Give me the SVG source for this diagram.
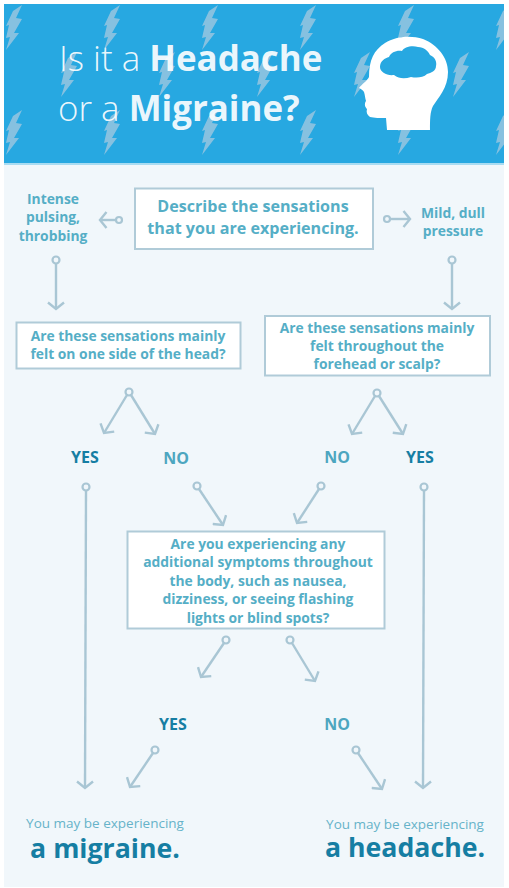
<svg xmlns="http://www.w3.org/2000/svg" width="509" height="888" viewBox="0 0 509 888">
<style>
text{font-family:"Open Sans","Liberation Sans",sans-serif;text-anchor:middle}
.t{fill:#fff;fill-opacity:.92;font-size:34.900px;text-anchor:start;font-weight:300}
.b{font-weight:700}
.box{fill:#fff;stroke:#b0cbd8;stroke-width:2}
.q{fill:#55aec6;font-size:13.850px;font-weight:700}
.q2{fill:#55aec6;font-size:16.100px;font-weight:700}
.no{fill:#4da6c0;font-size:16px;font-weight:700}
.yes{fill:#167ea3;font-size:16px;font-weight:700}
.sm{fill:#66b3c9;font-size:13.500px;font-weight:400}
.big{fill:#167ea3;font-size:26.700px;font-weight:700}
.c line{stroke:#a9c6d4;stroke-width:2.400;fill:none}
.c circle{fill:none;stroke:#a9c6d4;stroke-width:2.200}
.bolt{fill:#9fc7e0;fill-opacity:.8}
</style>
<defs>
<marker id="a" markerWidth="18" markerHeight="18" refX="9" refY="9" orient="auto" markerUnits="userSpaceOnUse"><path d="M2.500 1L9 9L2.500 17" fill="none" stroke="#a9c6d4" stroke-width="2.400"/></marker>
<polygon id="z" points="13,11 22,5 16,18 22,19 14,33 19,33 6,50 10,37 6,38 9,25 6,26"/>
<clipPath id="cp"><rect x="4" y="4" width="500" height="160"/></clipPath>
</defs>
<rect width="509" height="888" fill="#fff"/>
<rect x="4" y="164" width="500" height="723" fill="#f1f7fb"/>
<g id="header">
<rect x="4" y="4" width="500" height="160" fill="#27a8e1"/>
<rect x="4" y="163" width="500" height="2" fill="#a9dcf2"/>
<g class="bolt" clip-path="url(#cp)">
<use href="#z" x="0" y="0"/><use href="#z" x="98" y="0"/><use href="#z" x="196" y="0"/><use href="#z" x="294" y="0"/><use href="#z" x="392" y="0"/><use href="#z" x="490" y="0"/>
<use href="#z" x="55" y="47"/><use href="#z" x="153" y="47"/><use href="#z" x="251" y="47"/><use href="#z" x="348" y="47"/><use href="#z" x="447" y="47"/>
<use href="#z" x="0" y="105"/><use href="#z" x="98" y="105"/><use href="#z" x="196" y="105"/><use href="#z" x="294" y="105"/><use href="#z" x="392" y="105"/><use href="#z" x="490" y="105"/>
</g>
<text class="t" x="59" y="71">Is it a <tspan class="b">Headache</tspan></text>
<text class="t" x="58" y="121">or a <tspan class="b">Migraine?</tspan></text>
<path fill="#fff" d="M387 130L386 118C380 118 374 118 370 117C367 115 366 112 367 109C365 107 364 104 366 101C365 98 365 95 364 92C363 90 361 89 359 88C362 84 367 81 369 77C369 60 374 50 385 43C396 36 411 35 423 39C438 45 448 58 448 72C448 88 438 98 433 106C430 112 430 120 430 130Z"/>
<path fill="#27a8e1" d="M380 67C380 61 385 58 389 57C391 52 397 50 402 51C404 47 412 45 418 47C424 47 428 51 430 55C435 57 437 62 436 66C436 71 431 73 427 74C423 78 416 78 411 77C405 79 399 79 394 75C387 76 380 72 380 67Z"/>
</g>
<g id="connectors" class="c">
<circle cx="119" cy="220" r="3"/><line x1="116" y1="220" x2="100" y2="220" marker-end="url(#a)"/>
<circle cx="387" cy="219" r="3"/><line x1="390" y1="219" x2="410" y2="219" marker-end="url(#a)"/>
<circle cx="56" cy="260" r="3.500"/><line x1="56" y1="264" x2="56" y2="309" marker-end="url(#a)"/>
<circle cx="452" cy="260" r="3.500"/><line x1="452" y1="264" x2="452" y2="309" marker-end="url(#a)"/>
<circle cx="129" cy="392" r="3.500"/><line x1="127" y1="395" x2="104" y2="433" marker-end="url(#a)"/><line x1="131" y1="395" x2="155" y2="434" marker-end="url(#a)"/>
<circle cx="377" cy="393" r="3.500"/><line x1="375" y1="396" x2="352" y2="434" marker-end="url(#a)"/><line x1="379" y1="396" x2="403" y2="434" marker-end="url(#a)"/>
<circle cx="86" cy="487" r="3.500"/><line x1="86" y1="491" x2="85" y2="788" marker-end="url(#a)"/>
<circle cx="424" cy="487" r="3.500"/><line x1="424" y1="491" x2="423" y2="788" marker-end="url(#a)"/>
<circle cx="197" cy="486" r="3.500"/><line x1="199" y1="489" x2="223" y2="525" marker-end="url(#a)"/>
<circle cx="321" cy="486" r="3.500"/><line x1="319" y1="489" x2="297" y2="523" marker-end="url(#a)"/>
<circle cx="226" cy="640" r="3.500"/><line x1="224" y1="643" x2="201" y2="677" marker-end="url(#a)"/>
<circle cx="290" cy="640" r="3.500"/><line x1="292" y1="643" x2="315" y2="681" marker-end="url(#a)"/>
<circle cx="155" cy="750" r="3.500"/><line x1="153" y1="753" x2="130" y2="787" marker-end="url(#a)"/>
<circle cx="356" cy="750" r="3.500"/><line x1="358" y1="753" x2="382" y2="789" marker-end="url(#a)"/>
</g>
<g id="n-describe"><rect class="box" x="135" y="188.500" width="238" height="60.500"/><text class="q2" x="253" y="212">Describe the sensations</text><text class="q2" x="253" y="234">that you are experiencing.</text></g>
<g id="n-intense"><text class="q" x="53" y="204">Intense</text><text class="q" x="53" y="222">pulsing,</text><text class="q" x="53" y="241">throbbing</text></g>
<g id="n-mild"><text class="q" x="453" y="218">Mild, dull</text><text class="q" x="453" y="236">pressure</text></g>
<g id="n-q1"><rect class="box" x="16.500" y="322.500" width="224" height="46"/><text class="q" x="128" y="341">Are these sensations mainly</text><text class="q" x="128" y="359">felt on one side of the head?</text></g>
<g id="n-q2"><rect class="box" x="265" y="316" width="225" height="59.500"/><text class="q" x="377" y="333">Are these sensations mainly</text><text class="q" x="377" y="351">felt throughout the</text><text class="q" x="377" y="369">forehead or scalp?</text></g>
<g id="n-yes1"><text class="yes" x="85" y="463">YES</text></g>
<g id="n-no1"><text class="no" x="176" y="464">NO</text></g>
<g id="n-no2"><text class="no" x="337" y="463">NO</text></g>
<g id="n-yes2"><text class="yes" x="420" y="463">YES</text></g>
<g id="n-q3"><rect class="box" x="127.500" y="531.500" width="257" height="97"/><text class="q" x="258" y="549">Are you experiencing any</text><text class="q" x="258" y="567">additional symptoms throughout</text><text class="q" x="258" y="586">the body, such as nausea,</text><text class="q" x="258" y="604">dizziness, or seeing flashing</text><text class="q" x="258" y="623">lights or blind spots?</text></g>
<g id="n-yes3"><text class="yes" x="173" y="730">YES</text></g>
<g id="n-no3"><text class="no" x="337" y="730">NO</text></g>
<g id="n-migraine"><text class="sm" x="105" y="828">You may be experiencing</text><text class="big" x="105" y="858">a migraine.</text></g>
<g id="n-headache"><text class="sm" x="405" y="829">You may be experiencing</text><text class="big" x="405" y="857">a headache.</text></g>
</svg>
